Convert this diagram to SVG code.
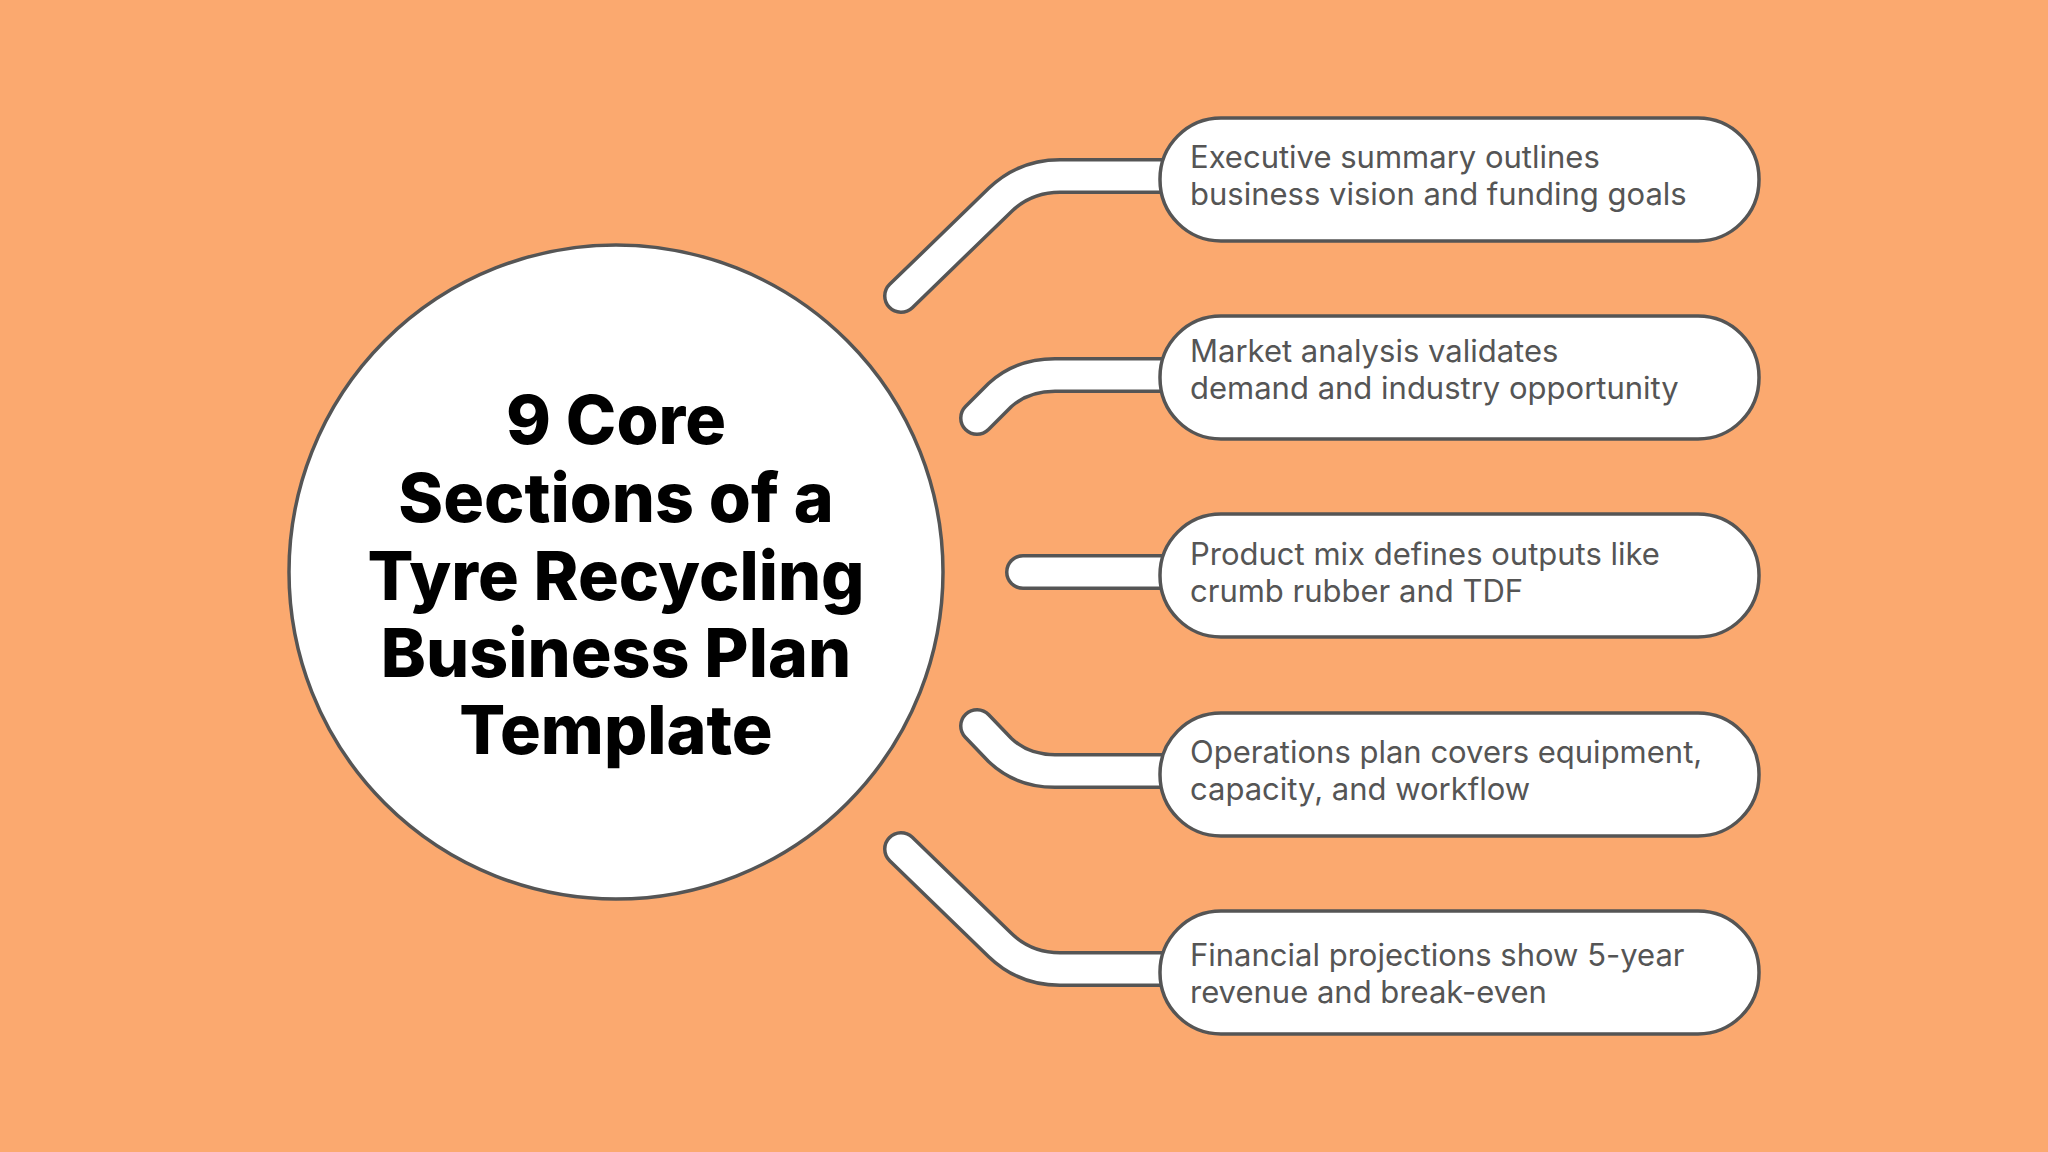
<svg xmlns="http://www.w3.org/2000/svg" width="2048" height="1152" viewBox="0 0 2048 1152">
<style>
.o{fill:none;stroke:#555;stroke-width:36;stroke-linecap:round;stroke-linejoin:round}
.i{fill:none;stroke:#fff;stroke-width:29;stroke-linecap:round;stroke-linejoin:round}
.box{fill:#fff;stroke:#555;stroke-width:3.5}
.t{font-family:Inter,"Open Sans",sans-serif;font-size:31px;fill:#555}
.h{font-family:Inter,"Open Sans",sans-serif;font-size:68px;font-weight:800;fill:#000;text-anchor:middle}
</style>
<rect width="2048" height="1152" fill="#FBA96F"/>
<g id="connectors">
<path class="o" d="M901 296 L1000 200 Q1025 176 1060 176 L1165 176"/>
<path class="i" d="M901 296 L1000 200 Q1025 176 1060 176 L1165 176"/>
<path class="o" d="M977 418 L1000 395 Q1022 375 1055 375 L1165 375"/>
<path class="i" d="M977 418 L1000 395 Q1022 375 1055 375 L1165 375"/>
<path class="o" d="M1023 572 L1165 572"/>
<path class="i" d="M1023 572 L1165 572"/>
<path class="o" d="M977 726 L1000 750 Q1022 771 1055 771 L1165 771"/>
<path class="i" d="M977 726 L1000 750 Q1022 771 1055 771 L1165 771"/>
<path class="o" d="M901 849 L1000 945 Q1025 969 1060 969 L1165 969"/>
<path class="i" d="M901 849 L1000 945 Q1025 969 1060 969 L1165 969"/>
</g>
<g id="center">
<circle cx="616" cy="572" r="327" fill="#fff" stroke="#555" stroke-width="3.5"/>
<text class="h"><tspan x="616" y="444">9 Core</tspan><tspan x="616" y="522">Sections of a</tspan><tspan x="616" y="600">Tyre Recycling</tspan><tspan x="616" y="677">Business Plan</tspan><tspan x="616" y="754">Template</tspan></text>
</g>
<g id="n1"><rect class="box" x="1160" y="118" width="599" height="123" rx="61"/><text class="t"><tspan x="1190" y="168">Executive summary outlines</tspan><tspan x="1190" y="205">business vision and funding goals</tspan></text></g>
<g id="n2"><rect class="box" x="1160" y="316" width="599" height="123" rx="61"/><text class="t"><tspan x="1190" y="362">Market analysis validates</tspan><tspan x="1190" y="399">demand and industry opportunity</tspan></text></g>
<g id="n3"><rect class="box" x="1160" y="514" width="599" height="123" rx="61"/><text class="t"><tspan x="1190" y="565">Product mix defines outputs like</tspan><tspan x="1190" y="602">crumb rubber and TDF</tspan></text></g>
<g id="n4"><rect class="box" x="1160" y="713" width="599" height="123" rx="61"/><text class="t"><tspan x="1190" y="763">Operations plan covers equipment,</tspan><tspan x="1190" y="800">capacity, and workflow</tspan></text></g>
<g id="n5"><rect class="box" x="1160" y="911" width="599" height="123" rx="61"/><text class="t"><tspan x="1190" y="966">Financial projections show 5-year</tspan><tspan x="1190" y="1003">revenue and break-even</tspan></text></g>
</svg>
